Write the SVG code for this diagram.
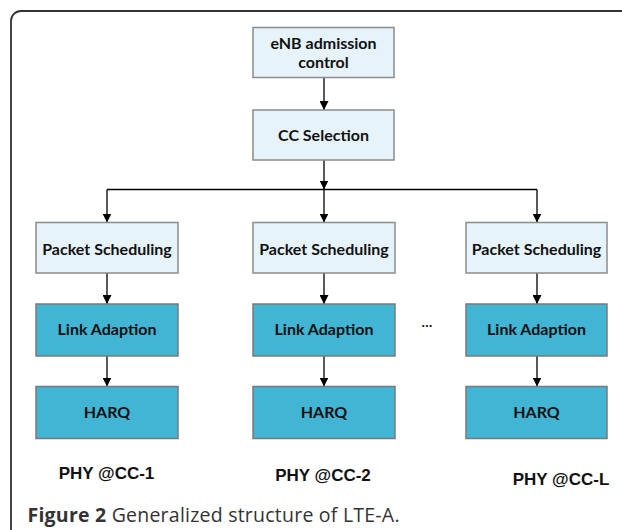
<svg xmlns="http://www.w3.org/2000/svg" width="622" height="530" viewBox="0 0 622 530">
<defs>
<marker id="ah" viewBox="0 0 10 10" refX="10" refY="5" markerWidth="9" markerHeight="9" markerUnits="userSpaceOnUse" orient="auto">
<path d="M0,0 L10,5 L0,10 z" fill="#000"/>
</marker>
<style>
.light{fill:#E6F3FA;stroke:#8C8C8C;stroke-width:1.5}
.dark{fill:#42B4D4;stroke:#7A7A7A;stroke-width:1.5}
.bt{font-family:Lato,"Liberation Sans",sans-serif;font-weight:bold;font-size:16px;fill:#111;text-anchor:middle}
.phy{font-family:"Liberation Sans",Arial,sans-serif;font-weight:bold;font-size:17px;fill:#111;text-anchor:middle}
.cn{stroke:#000;stroke-width:1.3;fill:none}
.ca{marker-end:url(#ah)}
</style>
</defs>
<rect width="622" height="530" fill="#fff"/>
<rect x="11" y="11" width="660" height="560" rx="10" ry="10" fill="none" stroke="#333" stroke-width="1.8"/>
<g id="connectors">
<line class="cn ca" x1="324" y1="77" x2="324" y2="110"/>
<line class="cn ca" x1="324" y1="160" x2="324" y2="189.5"/>
<line class="cn" x1="107" y1="189.5" x2="537" y2="189.5"/>
<line class="cn ca" x1="107" y1="189.5" x2="107" y2="222.5"/>
<line class="cn ca" x1="324" y1="189.5" x2="324" y2="222.5"/>
<line class="cn ca" x1="537" y1="189.5" x2="537" y2="222.5"/>
<line class="cn ca" x1="107" y1="273" x2="107" y2="304"/>
<line class="cn ca" x1="324" y1="273" x2="324" y2="304"/>
<line class="cn ca" x1="537" y1="273" x2="537" y2="304"/>
<line class="cn ca" x1="107" y1="356" x2="107" y2="386.5"/>
<line class="cn ca" x1="324" y1="356" x2="324" y2="386.5"/>
<line class="cn ca" x1="537" y1="356" x2="537" y2="386.5"/>
</g>
<g id="enb"><rect class="light" x="253" y="27.5" width="141" height="50"/><text class="bt" x="323.5" y="48.5">eNB admission</text><text class="bt" x="323.5" y="68">control</text></g>
<g id="ccsel"><rect class="light" x="253" y="110" width="141" height="50"/><text class="bt" x="323.5" y="140.5">CC Selection</text></g>
<g id="ps1"><rect class="light" x="36" y="222.5" width="142" height="50.5"/><text class="bt" x="107" y="255">Packet Scheduling</text></g>
<g id="ps2"><rect class="light" x="253" y="222.5" width="142" height="50.5"/><text class="bt" x="324" y="255">Packet Scheduling</text></g>
<g id="ps3"><rect class="light" x="466" y="222.5" width="141" height="50.5"/><text class="bt" x="536.5" y="255">Packet Scheduling</text></g>
<g id="la1"><rect class="dark" x="36" y="304" width="142" height="52"/><text class="bt" x="107" y="335">Link Adaption</text></g>
<g id="la2"><rect class="dark" x="253" y="304" width="142" height="52"/><text class="bt" x="324" y="335">Link Adaption</text></g>
<g id="la3"><rect class="dark" x="466" y="304" width="141" height="52"/><text class="bt" x="536.5" y="335">Link Adaption</text></g>
<g id="harq1"><rect class="dark" x="36" y="386.5" width="142" height="52"/><text class="bt" x="107" y="417.5">HARQ</text></g>
<g id="harq2"><rect class="dark" x="253" y="386.5" width="142" height="52"/><text class="bt" x="324" y="417.5">HARQ</text></g>
<g id="harq3"><rect class="dark" x="466" y="386.5" width="141" height="52"/><text class="bt" x="536.5" y="417.5">HARQ</text></g>
<text class="bt" x="427" y="327" style="font-size:14px">…</text>
<text class="phy" x="106.5" y="479">PHY @CC-1</text>
<text class="phy" x="323" y="481">PHY @CC-2</text>
<text class="phy" x="561" y="485">PHY @CC-L</text>
<text x="27.5" y="521.5" textLength="372" lengthAdjust="spacing" style="font-family:'Open Sans','Noto Sans',sans-serif;font-size:19.5px;fill:#333"><tspan font-weight="bold">Figure 2</tspan> Generalized structure of LTE-A.</text>
</svg>
